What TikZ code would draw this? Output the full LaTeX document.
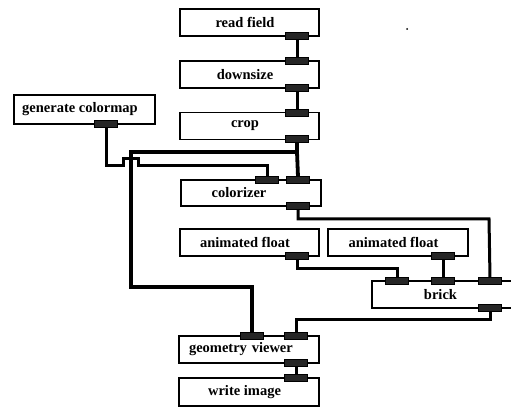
\documentclass[tikz,border=0pt]{standalone}
\usepackage{fontspec}
\setmainfont{Liberation Serif}
\begin{document}
\begin{tikzpicture}[x=1pt,y=-1pt,
  box/.style={draw=black, line width=1.3pt, fill=white, inner sep=0pt, minimum height=27pt, minimum width=139pt,
              font=\fontsize{14.5}{16}\selectfont\bfseries, execute at end node={\hspace*{9pt}}},
  port/.style={draw=black, fill=black!85, line width=0.6pt, inner sep=0pt, minimum width=22pt, minimum height=6pt},
  wire/.style={line width=3pt, line join=miter},
  thickwire/.style={line width=3.8pt, line join=miter}]
\clip (0,0) rectangle (511,411);
\fill[white] (0,0) rectangle (511,411);

% boxes
\node[box] (rf) at (249.5,22.5) {read field};
\node[box] (ds) at (249.5,74.5) {downsize};
\node[box] (cr) at (249.5,126) {crop};
\node[box, minimum width=141pt, minimum height=29pt] (gc) at (84.5,109.5) {generate colormap};
\node[box, minimum width=140pt, minimum height=26pt, execute at end node={\hspace*{15pt}}] (cz) at (251,193) {colorizer};
\node[box] (af1) at (249.5,242.5) {animated float};
\node[box, minimum width=140pt] (af2) at (398,242.5) {animated float};
\node[box, minimum width=146pt, execute at end node={}] (br) at (445,294.5) {brick};
\node[box, minimum width=140pt, align=left, text width=120pt, execute at end node={}] (gv) at (249,349.5) {geometry viewer};
\node[box, minimum width=140pt, minimum height=28pt] (wi) at (249,392) {write image};

% ports
\node[port] (rfo) at (297,36) {};
\node[port] (dsi) at (297,61) {};
\node[port] (dso) at (297,88) {};
\node[port] (cri) at (297,113) {};
\node[port] (cro) at (297,139) {};
\node[port] (gco) at (106,124) {};
\node[port] (czi1) at (267,180) {};
\node[port] (czi2) at (298,180) {};
\node[port] (czo) at (298,206) {};
\node[port] (af1o) at (297,256) {};
\node[port] (af2o) at (443,256) {};
\node[port] (bri1) at (397,281) {};
\node[port] (bri2) at (443,281) {};
\node[port] (bri3) at (490,281) {};
\node[port] (bro) at (490,308) {};
\node[port] (gvi1) at (252,336) {};
\node[port] (gvi2) at (296,336) {};
\node[port] (gvo) at (296,363) {};
\node[port] (wii) at (296,378) {};

% connectors
\coordinate (split) at (297,152);
\coordinate (jA) at (123,166);
\coordinate (jB) at (123,159);
\coordinate (jC) at (138,159);
\coordinate (jD) at (138,166);
\coordinate (gvturn) at (131,287);

\draw[wire] (rfo.center) -- (dsi.center);
\draw[wire] (dso.center) -- (cri.center);
\draw[thickwire] (cro.center) -- (split) -- (czi2.center |- czi2.north);
\draw[thickwire] (split) -- (131,152) -- (gvturn) -- (gvi1.center |- gvturn) -- (gvi1.north);
\draw[wire] (gco.south) |- (jA) -- (jB) -- (jC) -- (jD) -- (czi1.center |- jD) -- (czi1.north);
\draw[wire] (czo.south) -- (298,219) -- (489,219) -- (bri3.north);
\draw[wire] (af1o.south) -- (297,269) -- (397,269) -- (bri1.north);
\draw[wire] (af2o.south) -- (bri2.north);
\draw[wire] (bro.south) -- (490,320) -- (296,320) -- (gvi2.north);
\draw[wire] (gvo.south) -- (wii.north);

% redraw ports on top
\foreach \p in {rfo,dsi,dso,cri,cro,gco,czi1,czi2,czo,af1o,af2o,bri1,bri2,bri3,bro,gvi1,gvi2,gvo,wii}
  \filldraw[fill=black!85, draw=black, line width=0.6pt] (\p.north west) rectangle (\p.south east);

% stray dot
\fill (407,29) circle (1pt);
\end{tikzpicture}
\end{document}
